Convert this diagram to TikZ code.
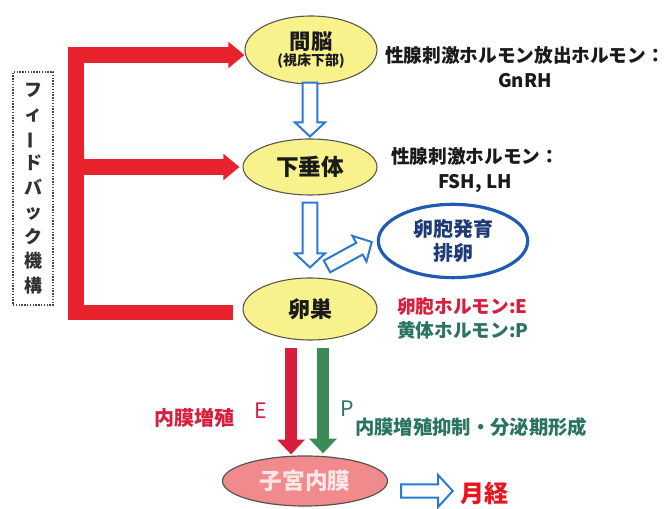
\documentclass[tikz,border=0pt]{standalone}
\usepackage{fontspec}
\usepackage{graphicx}
\setmainfont{Noto Sans CJK JP}
\usetikzlibrary{arrows.meta,calc,shapes.geometric}
\definecolor{organfill}{HTML}{F7F28C}
\definecolor{organline}{HTML}{55554A}
\definecolor{fbred}{HTML}{E8232E}
\definecolor{arrblue}{HTML}{2A7AD2}
\definecolor{follblue}{HTML}{1F5BB0}
\definecolor{follText}{HTML}{1E3A78}
\definecolor{txtred}{HTML}{D81E3C}
\definecolor{txtgreen}{HTML}{2A7560}
\definecolor{arrgreen}{HTML}{3C8A55}
\definecolor{endofill}{HTML}{F08A8C}
\definecolor{endotext}{HTML}{FDE6E6}
\definecolor{mensred}{HTML}{E8141E}
\definecolor{darktxt}{HTML}{1A1A1A}
\newcommand\harrow[5]{%
  \path let \p1=(#1), \p2=(#2) in
    \pgfextra{\pgfmathsetmacro\hangtmp{atan2(\y2-\y1,\x2-\x1)}%
              \pgfmathsetmacro\hlentmp{veclen(\x2-\x1,\y2-\y1)}%
              \xdef\hangG{\hangtmp}\xdef\hlenG{\hlentmp}};
  \begin{scope}[shift={(#1)},rotate=\hangG]
    \draw[hollowarrow] (0pt,-#3) -- ({\hlenG pt-#5},-#3) -- ({\hlenG pt-#5},-#4)
      -- ({\hlenG pt},0pt) -- ({\hlenG pt-#5},#4) -- ({\hlenG pt-#5},#3) -- (0pt,#3) -- cycle;
  \end{scope}}
\begin{document}
\begin{tikzpicture}[x=0.75pt,y=-0.75pt,
  organ/.style={ellipse, draw=organline, line width=0.8pt, fill=organfill, inner sep=0pt,
    text=darktxt, font=\bfseries, align=center},
  hollowarrow/.style={draw=arrblue, line width=1.5pt, fill=white, line join=miter},
  fb/.style={draw=fbred, line width=11.5pt, line join=miter, line cap=butt},
  fbtip/.style={-{Triangle[width=19pt,length=12pt]}},
  ptarrow/.style={line width=9.5pt, line cap=butt, -{Triangle[width=20pt,length=11pt]}},
  lbl/.style={text=darktxt, font=\fontsize{14pt}{18.75pt}\selectfont\bfseries, inner sep=0pt, align=center},
  rlbl/.style={text=txtred, font=\fontsize{14pt}{18pt}\selectfont\bfseries, inner sep=0pt},
  glbl/.style={text=txtgreen, font=\fontsize{14pt}{18pt}\selectfont\bfseries, inner sep=0pt}
]
\useasboundingbox (0,0) rectangle (669,509);
\fill[white] (0,0) rectangle (669,509);

% organs
\node[organ, minimum width=99pt, minimum height=51pt] (kan) at (311,50)
  {{\fontsize{16pt}{17pt}\selectfont 間脳}\\[0pt]{\fontsize{10.5pt}{12pt}\selectfont (視床下部)}};
\node[organ, minimum width=100.5pt, minimum height=42pt, font=\fontsize{17pt}{19pt}\selectfont\bfseries] (pit) at (310,167) {下垂体};
\node[organ, minimum width=100.5pt, minimum height=46.5pt, font=\fontsize{16.5pt}{19pt}\selectfont\bfseries] (ovary) at (310,309) {卵巣};
\node[ellipse, draw=follblue, line width=2.4pt, fill=white, minimum width=112pt, minimum height=55pt,
  inner sep=0pt, text=follText, align=center, font=\fontsize{15pt}{18pt}\selectfont\bfseries] (foll) at (453,241)
  {卵胞発育\\排卵};
\node[ellipse, draw=organline, line width=0.9pt, fill=endofill, minimum width=123.75pt, minimum height=37.5pt,
  inner sep=0pt, text=endotext, font=\fontsize{17pt}{19pt}\selectfont\bfseries] (endo) at (305,481) {子宮内膜};
\node[text=mensred, inner sep=0pt, font=\fontsize{18pt}{20pt}\selectfont\bfseries] (mens) at (484,493) {月経};

% labels
\node[lbl] (t1) at (525,67.5) {性腺刺激ホルモン放出ホルモン：\\GnRH};
\node[lbl] (t2) at (475,170) {性腺刺激ホルモン：\\FSH, LH};
\node[rlbl, anchor=west] (eh) at (397,307) {卵胞ホルモン:E};
\node[glbl, anchor=west] (ph) at (397,330) {黄体ホルモン:P};
\node[text=txtred, inner sep=0pt, font=\fontsize{15pt}{18pt}\selectfont\bfseries] (eg) at (194,418) {内膜増殖};
\node[text=txtred, inner sep=0pt, font=\fontsize{16pt}{18pt}\selectfont] (eE) at (261,411) {E};
\node[text=txtgreen, inner sep=0pt, font=\fontsize{16pt}{18pt}\selectfont] (pP) at (347,409) {P};
\node[glbl, anchor=west, font=\fontsize{14.5pt}{18pt}\selectfont\bfseries] (pg) at (355,427) {内膜増殖抑制・分泌期形成};

% feedback box
\node[draw=darktxt!80, densely dotted, line width=1.1pt, minimum width=30pt, minimum height=174.75pt,
  inner sep=0pt, text=darktxt!90, align=center, font=\fontsize{13.5pt}{18.4pt}\selectfont\bfseries] (fbbox) at (33,188.5)
  {フ\\ィ\\\rotatebox[origin=c]{90}{ー}\\ド\\バ\\ッ\\ク\\機\\構};

% red feedback arrows
\coordinate (fbB) at ($(ovary.west)+(-9,3.5)$);
\coordinate (fbC) at (76,312.5);
\coordinate (fbT) at (76,55);
\draw[fb, fbtip] (fbB) -- (fbC) -- (fbT) -- (fbT -| kan.west);
\draw[fb, fbtip] (fbC |- pit.west) -- ($(pit.west)+(-3,0)$);

% blue hollow arrows
\coordinate (a1s) at ($(kan.south)+(-1,-2)$);
\coordinate (a1e) at ($(pit.north)+(0,-2)$);
\harrow{a1s}{a1e}{5.6pt}{11.25pt}{10.5pt}
\coordinate (a2s) at ($(pit.south)+(0,7)$);
\coordinate (a2e) at ($(ovary.north)+(0,-10)$);
\harrow{a2s}{a2e}{5.6pt}{11.25pt}{10.5pt}
\coordinate (a3s) at ($(ovary.north)+(17,-11)$);
\coordinate (a3e) at ($(foll.west)+(-5,1)$);
\harrow{a3s}{a3e}{5pt}{11pt}{10.5pt}
\coordinate (a4s) at ($(endo.east)+(13,10)$);
\coordinate (a4e) at ($(mens.west)+(-7,-2)$);
\harrow{a4s}{a4e}{5pt}{12pt}{11pt}

% hormone arrows
\draw[ptarrow, draw=txtred, fill=txtred] ($(ovary.south)+(-19,7)$) -- ($(endo.north)+(-14,-1)$);
\draw[ptarrow, draw=arrgreen, fill=arrgreen] ($(ovary.south)+(13,7)$) -- ($(endo.north)+(18,-2)$);
\end{tikzpicture}
\end{document}
